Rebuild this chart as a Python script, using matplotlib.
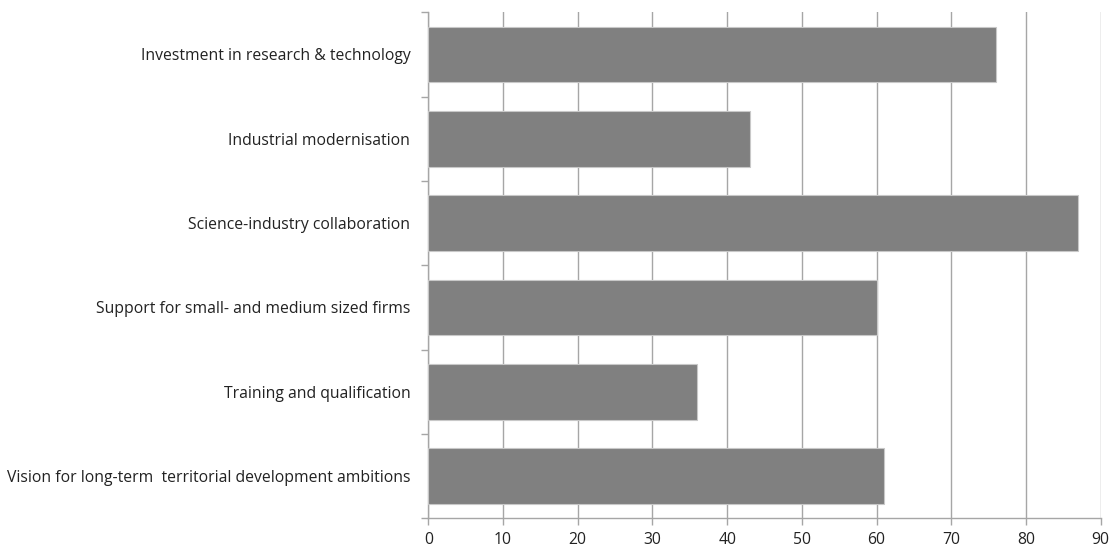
import matplotlib
matplotlib.use("Agg")
import matplotlib.pyplot as plt
import numpy as np

categories = [
    "Investment in research & technology",
    "Industrial modernisation",
    "Science-industry collaboration",
    "Support for small- and medium sized firms",
    "Training and qualification",
    "Vision for long-term  territorial development ambitions",
]
values = [76, 43, 87, 60, 36, 61]
xticks = [0, 10, 20, 30, 40, 50, 60, 70, 80, 90]

plt.rcParams['font.family'] = ['Open Sans', 'DejaVu Sans']

fig = plt.figure(figsize=(11.16, 5.5), dpi=100)
ax = fig.add_axes([0.3838, 0.0576, 0.6025, 0.92])

grid_c = "#a6a6a6"
y = np.arange(len(categories))
ax.barh(y, values, height=0.66, color="#808080", edgecolor="#c8c8c8", linewidth=0.8, zorder=3)

ax.set_xlim(0, 90)
ax.set_ylim(len(categories) - 0.5, -0.5)
ax.set_xticks(xticks)
ax.set_xticklabels([str(t) for t in xticks])
ax.xaxis.grid(True, color=grid_c, linewidth=1.0, zorder=0)

ax.set_yticks(y)
ax.set_yticklabels(categories)
ax.set_yticks(np.arange(-0.5, len(categories), 1.0), minor=True)
ax.tick_params(axis='y', which='major', length=0, pad=13, labelsize=11.3, labelcolor="#222222")
ax.tick_params(axis='y', which='minor', length=5, width=1.0, color=grid_c)
ax.tick_params(axis='x', which='major', length=5, width=1.0, color=grid_c, pad=5, labelsize=11.3, labelcolor="#222222")

for s in ["top", "right"]:
    ax.spines[s].set_visible(False)
for s in ["left", "bottom"]:
    ax.spines[s].set_color(grid_c)
    ax.spines[s].set_linewidth(1.0)

fig.savefig("out.png", dpi=100, facecolor="white")
